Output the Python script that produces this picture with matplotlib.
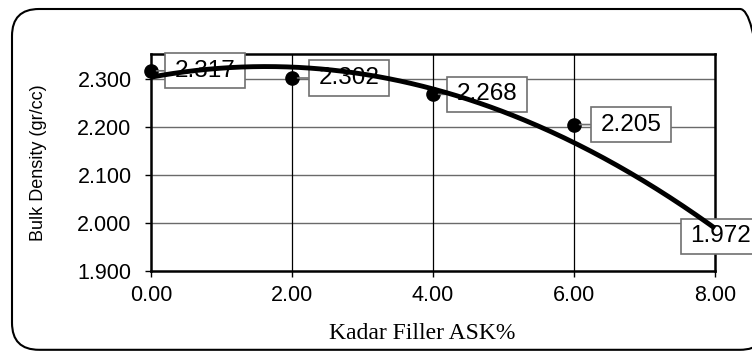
import numpy as np
import matplotlib
matplotlib.use("Agg")
import matplotlib.pyplot as plt
from matplotlib.patches import FancyBboxPatch
from matplotlib.path import Path

# ---- data ----
kadar = [0.0, 2.0, 4.0, 6.0, 8.0]
density = [2.317, 2.302, 2.268, 2.205, 1.972]
point_labels = ["2.317", "2.302", "2.268", "2.205", "1.972"]
x_ticks = [0.0, 2.0, 4.0, 6.0, 8.0]
y_ticks = [1.9, 2.0, 2.1, 2.2, 2.3]
x_title = "Kadar Filler ASK%"
y_title = "Bulk Density (gr/cc)"

# label centre offsets in pixels (dx)
label_dx = [54, 57, 54, 57, 6]

fig = plt.figure(figsize=(7.52, 3.51), dpi=100)
fig.patch.set_facecolor("white")

# outer rounded border
border = FancyBboxPatch((0.12, 0.012), 7.55, 3.408,
                        boxstyle="round,pad=0,rounding_size=0.27",
                        transform=fig.dpi_scale_trans, fill=False,
                        edgecolor="black", linewidth=1.5, zorder=0)
fig.patches.append(border)

ax = fig.add_axes([151/752, 1-271/351, 564/752, 217/351])
ax.set_xlim(0, 8)
ax.set_ylim(1.9, 2.352)

# grid
for yv in y_ticks[1:]:
    ax.axhline(yv, color="#6a6a6a", lw=1.0, zorder=0.5)
for xv in x_ticks[1:-1]:
    ax.axvline(xv, color="black", lw=0.9, zorder=0.5)

for s in ax.spines.values():
    s.set_linewidth(1.8)
    s.set_color("black")
    s.set_zorder(2)

ax.set_xticks(x_ticks)
ax.set_xticklabels([f"{v:.2f}" for v in x_ticks])
ax.set_yticks(y_ticks)
ax.set_yticklabels([f"{v:.3f}" for v in y_ticks])
ax.tick_params(axis="both", direction="out", length=4, width=1.0, colors="black")
ax.tick_params(axis="y", pad=10)
ax.tick_params(axis="x", pad=6)
for lab in ax.get_xticklabels() + ax.get_yticklabels():
    lab.set_fontfamily("Liberation Sans")
    lab.set_fontsize(15.5)

ax.set_xlabel(x_title, fontfamily="Liberation Serif", fontsize=17, va="center")
ax.xaxis.set_label_coords(0.48, -0.286)
ax.set_ylabel(y_title, fontfamily="Liberation Sans", fontsize=13, va="center")
ax.yaxis.set_label_coords(-0.2, 0.5)

# markers
ax.plot(kadar, density, linestyle="none", marker="o", ms=9.5,
        color="black", zorder=3, clip_on=False)

# custom box style: wider horizontal padding
def label_box(x0, y0, width, height, mutation_size):
    px = 0.40 * mutation_size
    py = 0.27 * mutation_size
    x0, y0 = x0 - px, y0 - py
    x1, y1 = x0 + width + 2 * px, y0 + height + 2 * py
    return Path([(x0, y0), (x1, y0), (x1, y1), (x0, y1), (x0, y0)], closed=True)

for i, (xv, yv, txt) in enumerate(zip(kadar, density, point_labels)):
    show_arrow = i < len(kadar) - 1
    ax.annotate(txt, xy=(xv, yv), xytext=(label_dx[i], 0),
                textcoords="offset pixels", ha="center", va="center",
                fontfamily="Liberation Sans", fontsize=17.5,
                bbox=dict(boxstyle=label_box, fc="white", ec="#707070", lw=1.2),
                arrowprops=(dict(arrowstyle="-", color="#707070", lw=1.2,
                                 shrinkA=0, shrinkB=4) if show_arrow else None),
                annotation_clip=False, zorder=4)

# polynomial (order 2) trendline
coef = np.polyfit(kadar, density, 2)
xs = np.linspace(min(kadar), max(kadar), 300)
ax.plot(xs, np.polyval(coef, xs), color="black", lw=3.5, zorder=5,
        solid_capstyle="butt", clip_on=False)

fig.savefig("out.png", dpi=100)
